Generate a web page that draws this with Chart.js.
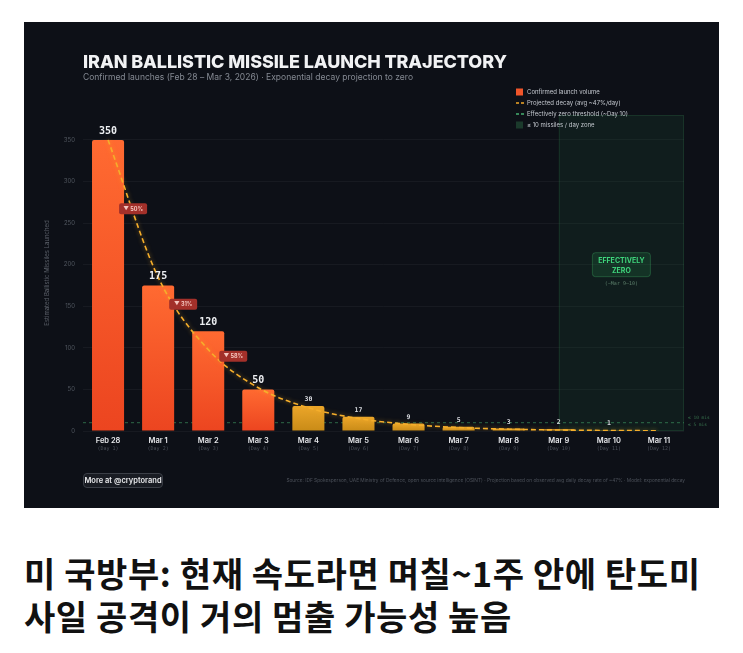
<!DOCTYPE html>
<html>
<head>
<meta charset="utf-8">
<script src="https://cdn.jsdelivr.net/npm/chart.js@4.4.1/dist/chart.umd.min.js"></script>
<style>
  html, body { margin: 0; padding: 0; background: #fff; }
  body { width: 743px; height: 653px; position: relative; overflow: hidden; font-family: Inter, "Noto Sans", sans-serif; }
  #panel { position: absolute; left: 24px; top: 22px; width: 695px; height: 486px; background: #0d1017; }
  #c { position: absolute; left: 0; top: 0; }
  #title { position: absolute; left: 59px; top: 31px; font: 800 18px/1 Inter, sans-serif; color: #f1f2f4; white-space: nowrap; }
  #sub { position: absolute; left: 59px; top: 51px; font: 400 8.5px/1 Inter, sans-serif; color: #858a93; white-space: nowrap; }
  #more { position: absolute; left: 59px; top: 451px; width: 80px; height: 15px; box-sizing: border-box;
    border: 1px solid #3b3f47; border-radius: 4px; background: #191c23; color: #e9eaec;
    font: 600 7.5px/13px Inter, sans-serif; text-align: center; white-space: nowrap; }
  .cap { position: absolute; left: 24px; font: 700 34px/43px "Noto Sans CJK KR", sans-serif; color: #111; white-space: nowrap; }
</style>
</head>
<body>
<div id="panel">
  <canvas id="c" width="695" height="486"></canvas>
  <div id="title">IRAN BALLISTIC MISSILE LAUNCH TRAJECTORY</div>
  <div id="sub">Confirmed launches (Feb 28 – Mar 3, 2026) · Exponential decay projection to zero</div>
  <div id="more">More at @cryptorand</div>
</div>
<div class="cap" id="cap1" style="top:551px">미 국방부: 현재 속도라면 며칠~1주 안에 탄도미</div>
<div class="cap" id="cap2" style="top:594px">사일 공격이 거의 멈출 가능성 높음</div>

<script>
// data
const days = ['Feb 28', 'Mar 1', 'Mar 2', 'Mar 3', 'Mar 4', 'Mar 5', 'Mar 6', 'Mar 7', 'Mar 8', 'Mar 9', 'Mar 10', 'Mar 11']
const dayLabels = ['(Day 1)', '(Day 2)', '(Day 3)', '(Day 4)', '(Day 5)', '(Day 6)', '(Day 7)', '(Day 8)', '(Day 9)', '(Day 10)', '(Day 11)', '(Day 12)']
const launches = [350, 175, 120, 50, 30, 17, 9, 5, 3, 2, 1, null]
const projected = [350, 185, 98, 52, 28, 15, 8, 4.2, 2.2, 1.2, 0.6, 0.3]
const drops = ['50%', '31%', '58%']
const yMax = 380
const yStep = 50
const threshold = 10
const lastConfirmed = 'Mar 3'
const zoneFrom = 'Mar 9'
const sourceText = 'Source: IDF Spokesperson, UAE Ministry of Defence, open source intelligence (OSINT) · Projection based on observed avg daily decay rate of ~47% · Model: exponential decay'

// stretch a line of text to the width it has in the reference
function fitWidth(id, target) {
	const el = document.getElementById(id)
	const n = el.textContent.length
	const w = el.getBoundingClientRect().width
	const sp = (target - w) / (n - 1)
	el.style.letterSpacing = sp + 'px'
	return sp
}
fitWidth('title', 424)
fitWidth('sub', 330)
const ls = fitWidth('cap1', 676)
document.getElementById('cap2').style.letterSpacing = ls + 'px'

const confirmedIdx = days.indexOf(lastConfirmed)

function barColor(ctx) {
	const chart = ctx.chart
	const solid = ctx.dataIndex <= confirmedIdx ? '#f9592a' : '#dc9a22'
	const y = chart.scales.y
	if (!y || ctx.raw == null) return solid
	const top = y.getPixelForValue(ctx.raw)
	const base = y.getPixelForValue(0)
	if (!isFinite(top) || !isFinite(base) || top === base) return solid
	const g = chart.ctx.createLinearGradient(0, top, 0, base)
	if (ctx.dataIndex <= confirmedIdx) {
		g.addColorStop(0, '#ff6a31')
		g.addColorStop(1, '#ec4520')
	} else {
		g.addColorStop(0, '#eba62a')
		g.addColorStop(1, '#c98b17')
	}
	return g
}

function roundRect(ctx, x, y, w, h, r) {
	ctx.beginPath()
	ctx.moveTo(x + r, y)
	ctx.arcTo(x + w, y, x + w, y + h, r)
	ctx.arcTo(x + w, y + h, x, y + h, r)
	ctx.arcTo(x, y + h, x, y, r)
	ctx.arcTo(x, y, x + w, y, r)
	ctx.closePath()
}

const overlay = {
	id: 'overlay',
	beforeDatasetsDraw(chart) {
		const {ctx, chartArea: a, scales: {x, y}} = chart
		ctx.save()
		// <= 10 / day zone
		const zx = x.getPixelForValue(days.indexOf(zoneFrom))
		ctx.fillStyle = 'rgba(38,120,70,0.13)'
		ctx.fillRect(zx, a.top, a.right - zx, a.bottom - a.top)
		ctx.strokeStyle = 'rgba(70,170,105,0.16)'
		ctx.lineWidth = 1
		ctx.strokeRect(zx + 0.5, a.top + 0.5, a.right - zx - 1, a.bottom - a.top - 1)
		// threshold line
		const ty = y.getPixelForValue(threshold)
		ctx.setLineDash([3, 3])
		ctx.strokeStyle = 'rgba(70,175,110,0.55)'
		ctx.beginPath()
		ctx.moveTo(a.left, ty)
		ctx.lineTo(a.right, ty)
		ctx.stroke()
		ctx.restore()
	},
	beforeDatasetDraw(chart, args) {
		if (args.index === 1) {
			chart.ctx.save()
			chart.ctx.shadowColor = 'rgba(255,180,40,0.55)'
			chart.ctx.shadowBlur = 4
		}
	},
	afterDatasetDraw(chart, args) {
		if (args.index === 1) chart.ctx.restore()
	},
	afterDatasetsDraw(chart) {
		const {ctx, chartArea: a, scales: {x, y}} = chart
		ctx.save()
		ctx.textAlign = 'center'
		ctx.textBaseline = 'alphabetic'
		// value labels on bars
		launches.forEach((v, i) => {
			if (v == null) return
			const px = x.getPixelForValue(i)
			const py = y.getPixelForValue(v)
			if (v >= 50) {
				ctx.font = 'bold 10px "DejaVu Sans Mono", monospace'
				ctx.fillStyle = '#eceef1'
				ctx.fillText(String(v), px, py - 6)
			} else {
				ctx.font = 'bold 6.5px "DejaVu Sans Mono", monospace'
				ctx.fillStyle = '#d9dbe0'
				ctx.fillText(String(v), px, py - 5)
			}
		})
		// day over day drop badges
		drops.forEach((d, i) => {
			const cx = (x.getPixelForValue(i) + x.getPixelForValue(i + 1)) / 2
			const cy = y.getPixelForValue((launches[i] + launches[i + 1]) / 2) - 4
			ctx.fillStyle = '#a3302a'
			roundRect(ctx, cx - 14, cy - 5.5, 28, 11, 2)
			ctx.fill()
			ctx.fillStyle = '#f4c6bf'
			ctx.font = 'bold 5.5px Inter, sans-serif'
			ctx.textBaseline = 'middle'
			ctx.fillText('▼ ' + d, cx, cy + 0.5)
		})
		ctx.textBaseline = 'alphabetic'
		// effectively zero box
		const zx = x.getPixelForValue(days.indexOf(zoneFrom))
		const zc = (zx + a.right) / 2
		const zy = y.getPixelForValue(200)
		ctx.fillStyle = 'rgba(40,130,75,0.22)'
		ctx.strokeStyle = 'rgba(70,190,110,0.3)'
		roundRect(ctx, zc - 29, zy - 12, 58, 24, 3)
		ctx.fill()
		ctx.stroke()
		ctx.fillStyle = '#3fd57c'
		ctx.font = 'bold 7px Inter, sans-serif'
		ctx.fillText('EFFECTIVELY', zc, zy - 2)
		ctx.fillText('ZERO', zc, zy + 8)
		ctx.fillStyle = '#5d7f6c'
		ctx.font = '5px "DejaVu Sans Mono", monospace'
		ctx.fillText('(~Mar 9–10)', zc, zy + 20)
		// small labels right of the plot
		ctx.textAlign = 'left'
		ctx.fillStyle = 'rgba(80,170,110,0.6)'
		ctx.font = '4.5px "DejaVu Sans Mono", monospace'
		const ty = y.getPixelForValue(threshold)
		ctx.fillText('≤ 10 mis', a.right + 4, ty - 4)
		ctx.fillText('≤ 5 mis', a.right + 4, ty + 3)
		ctx.restore()
	},
	afterDraw(chart) {
		const ctx = chart.ctx
		ctx.save()
		// legend
		const lx = 492
		const rows = [70, 81, 92, 103]
		ctx.font = '6px Inter, sans-serif'
		ctx.textBaseline = 'middle'
		ctx.textAlign = 'left'
		ctx.fillStyle = '#f0552a'
		ctx.fillRect(lx, rows[0] - 3.5, 7, 7)
		ctx.lineWidth = 1.5
		ctx.strokeStyle = '#f2a829'
		ctx.beginPath(); ctx.moveTo(lx, rows[1]); ctx.lineTo(lx + 3, rows[1]); ctx.moveTo(lx + 5, rows[1]); ctx.lineTo(lx + 8, rows[1]); ctx.stroke()
		ctx.strokeStyle = '#46b072'
		ctx.beginPath(); ctx.moveTo(lx, rows[2]); ctx.lineTo(lx + 3, rows[2]); ctx.moveTo(lx + 5, rows[2]); ctx.lineTo(lx + 8, rows[2]); ctx.stroke()
		ctx.fillStyle = 'rgba(45,110,70,0.45)'
		ctx.fillRect(lx, rows[3] - 3.5, 7, 7)
		ctx.fillStyle = '#c3c7ce'
		ctx.fillText('Confirmed launch volume', lx + 11, rows[0])
		ctx.fillText('Projected decay (avg ~47%/day)', lx + 11, rows[1])
		ctx.fillText('Effectively zero threshold (~Day 10)', lx + 11, rows[2])
		ctx.fillText('≤ 10 missiles / day zone', lx + 11, rows[3])
		// source line
		ctx.textAlign = 'right'
		ctx.fillStyle = '#4c515a'
		ctx.font = '4.8px Inter, sans-serif'
		ctx.fillText(sourceText, 661, 459)
		ctx.restore()
	}
}

new Chart(document.getElementById('c'), {
	data: {
		labels: days,
		datasets: [
			{
				type: 'bar',
				label: 'Confirmed launch volume',
				data: launches,
				backgroundColor: barColor,
				borderRadius: {topLeft: 2, topRight: 2},
				borderSkipped: 'bottom',
				barPercentage: 0.64,
				categoryPercentage: 1,
				order: 1
			},
			{
				type: 'line',
				label: 'Projected decay',
				data: projected,
				borderColor: '#f5ae2b',
				borderWidth: 1.6,
				borderDash: [5, 3],
				pointRadius: 0,
				cubicInterpolationMode: 'monotone',
				fill: false,
				order: 0
			}
		]
	},
	options: {
		responsive: false,
		animation: false,
		devicePixelRatio: 1,
		layout: {padding: {top: 93, right: 35, bottom: 51, left: 0}},
		plugins: {legend: {display: false}, tooltip: {enabled: false}},
		scales: {
			x: {
				type: 'category',
				position: 'bottom',
				offset: true,
				grid: {display: false, drawTicks: false},
				border: {display: false},
				ticks: {color: '#e6e7ea', font: {family: 'Inter', size: 7.5, weight: '600'}, padding: 5, maxRotation: 0, autoSkip: false},
				afterFit: s => { s.height = 14 }
			},
			x2: {
				type: 'category',
				position: 'bottom',
				offset: true,
				labels: dayLabels,
				grid: {display: false, drawTicks: false},
				border: {display: false},
				ticks: {color: '#4d525b', font: {family: 'DejaVu Sans Mono', size: 5}, padding: 1, maxRotation: 0, autoSkip: false},
				afterFit: s => { s.height = 12 }
			},
			y: {
				min: 0,
				max: yMax,
				afterBuildTicks: s => { s.ticks = s.ticks.filter(t => t.value % yStep === 0) },
				ticks: {stepSize: yStep, color: '#50565f', font: {family: 'Inter', size: 6}, padding: 8},
				grid: {color: 'rgba(255,255,255,0.045)', drawTicks: false},
				border: {display: false},
				title: {display: true, text: 'Estimated Ballistic Missiles Launched', color: '#5a5f68', font: {family: 'Inter', size: 6}, padding: {top: 20, bottom: 0}},
				afterFit: s => { s.width = 59 }
			}
		}
	},
	plugins: [overlay]
})
</script>
</body>
</html>
